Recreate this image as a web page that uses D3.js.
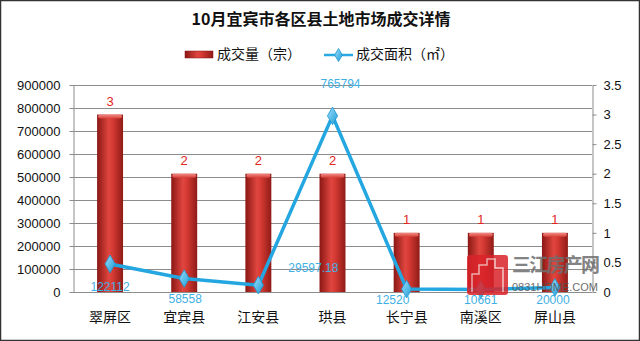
<!DOCTYPE html>
<html><head><meta charset="utf-8">
<script src="https://cdn.jsdelivr.net/npm/d3@7/dist/d3.min.js"></script>
<style>body{margin:0;background:#fff}svg{display:block}</style>
</head><body>
<svg id="c" width="640" height="341"></svg>
<script>
const categories = ["翠屏区","宜宾县","江安县","珙县","长宁县","南溪区","屏山县"];
const dealCount = [3,2,2,2,1,1,1];
const dealArea = [122112,58558,29597.18,765794,12520,10661,20000];
const areaLabels = ["122112","58558","29597.18","765794","12520","10661","20000"];
const leftTicks = [0,100000,200000,300000,400000,500000,600000,700000,800000,900000];
const rightTicks = [0,0.5,1,1.5,2,2.5,3,3.5];
const labelOffsets = [[0,24],[1,21],[55,-16],[8,-31],[-14,12],[0,11],[-2,13.5]];

const svg = d3.select("#c");
const L = 73, R = 592, T = 85, B = 292;
const x = d3.scaleBand().domain(categories).range([L,R]).paddingInner(0.65).paddingOuter(0.325);
const xc = d => x(d) + x.bandwidth()/2;
const yL = d3.scaleLinear().domain([0,900000]).range([B,T]);
const yR = d3.scaleLinear().domain([0,3.5]).range([B,T]);

const defs = svg.append("defs");
const g1 = defs.append("linearGradient").attr("id","barg").attr("x1","0").attr("x2","1").attr("y1","0").attr("y2","0");
g1.append("stop").attr("offset","0").attr("stop-color","#8a1714");
g1.append("stop").attr("offset","0.45").attr("stop-color","#e0463f");
g1.append("stop").attr("offset","0.6").attr("stop-color","#d53a33");
g1.append("stop").attr("offset","1").attr("stop-color","#8f1b17");
const g2 = defs.append("linearGradient").attr("id","capg").attr("x1","0").attr("x2","0").attr("y1","0").attr("y2","1");
g2.append("stop").attr("offset","0").attr("stop-color","#f08a84");
g2.append("stop").attr("offset","1").attr("stop-color","#d8403a");
const g3 = defs.append("linearGradient").attr("id","dg").attr("x1","0").attr("x2","1").attr("y1","0").attr("y2","1");
g3.append("stop").attr("offset","0").attr("stop-color","#9fe0fb");
g3.append("stop").attr("offset","1").attr("stop-color","#1c9ad6");

svg.append("rect").attr("x",0.5).attr("y",0.5).attr("width",639).attr("height",340).attr("fill","#fff").attr("stroke","#333").attr("stroke-width",1.5);

// title
svg.append("text").attr("x",321).attr("y",21).attr("text-anchor","middle").attr("dominant-baseline","middle")
  .attr("font-family","Noto Sans CJK SC").attr("font-weight","bold").attr("font-size",16).attr("fill","#111")
  .text("10月宜宾市各区县土地市场成交详情");

// legend
const lg = svg.append("g");
lg.append("rect").attr("x",185).attr("y",51).attr("width",28).attr("height",7).attr("fill","url(#barg)").attr("stroke","#8a1714").attr("stroke-width",0.5);
lg.append("text").attr("x",217).attr("y",55).attr("dominant-baseline","middle").attr("font-family","Noto Sans CJK SC").attr("font-size",14).attr("fill","#111").text("成交量（宗）");
lg.append("line").attr("x1",324).attr("x2",353).attr("y1",55).attr("y2",55).attr("stroke","#29a9e1").attr("stroke-width",2.5);
lg.append("path").attr("d",d3.symbol(d3.symbolDiamond,50)()).attr("transform","translate(338.5,55)").attr("fill","url(#dg)").attr("stroke","#1d97d2").attr("stroke-width",0.8);
lg.append("text").attr("x",356).attr("y",55).attr("dominant-baseline","middle").attr("font-family","Noto Sans CJK SC").attr("font-size",14).attr("fill","#111").text("成交面积（㎡）");

// grid
svg.append("g").selectAll("line").data(leftTicks).join("line")
  .attr("x1",L).attr("x2",R).attr("y1",d=>Math.round(yL(d))+0.5).attr("y2",d=>Math.round(yL(d))+0.5)
  .attr("stroke","#8c8c8c").attr("stroke-width",1);

// axes
const axL = svg.append("g").attr("transform",`translate(${L+0.5},0)`).call(d3.axisLeft(yL).tickValues(leftTicks).tickFormat(d3.format("d")).tickSize(4).tickSizeOuter(0));
const axR = svg.append("g").attr("transform",`translate(${R+0.5},0)`).call(d3.axisRight(yR).tickValues(rightTicks).tickFormat(d=>String(d)).tickSize(4).tickSizeOuter(0));
[axL,axR].forEach(a=>{
  a.select(".domain").attr("stroke","#8c8c8c");
  a.selectAll(".tick line").attr("stroke","#8c8c8c");
  a.selectAll("text").attr("font-family","Liberation Sans, Arial").attr("font-size",13).attr("fill","#111");
});
axL.selectAll("text").attr("x",-13);
axR.selectAll("text").attr("x",11);

// bars
const bars = svg.append("g");
bars.selectAll("rect.bar").data(categories).join("rect").attr("class","bar")
  .attr("x",d=>x(d)).attr("width",x.bandwidth())
  .attr("y",(d,i)=>yR(dealCount[i])).attr("height",(d,i)=>B-yR(dealCount[i]))
  .attr("fill","url(#barg)");
bars.selectAll("rect.cap").data(categories).join("rect").attr("class","cap")
  .attr("x",d=>x(d)+1).attr("width",x.bandwidth()-2)
  .attr("y",(d,i)=>yR(dealCount[i])).attr("height",4).attr("rx",2)
  .attr("fill","url(#capg)");
bars.selectAll("text").data(categories).join("text")
  .attr("x",d=>xc(d)).attr("y",(d,i)=>yR(dealCount[i])-12)
  .attr("text-anchor","middle").attr("dominant-baseline","middle")
  .attr("font-family","Liberation Sans, Arial").attr("font-size",13).attr("fill","#e0261e")
  .text((d,i)=>dealCount[i]);

// category labels
svg.append("g").selectAll("text").data(categories).join("text")
  .attr("x",d=>xc(d)).attr("y",318).attr("text-anchor","middle").attr("dominant-baseline","middle")
  .attr("font-family","Noto Sans CJK SC").attr("font-size",14).attr("fill","#111").text(d=>d);

// line
const line = d3.line().x((d,i)=>xc(categories[i])).y(d=>yL(d));
svg.append("path").datum(dealArea).attr("d",line).attr("fill","none").attr("stroke","#24a6e0").attr("stroke-width",3.5).attr("stroke-linejoin","round");
svg.append("g").selectAll("path").data(dealArea).join("path")
  .attr("d",d3.symbol(d3.symbolDiamond,90)())
  .attr("transform",(d,i)=>`translate(${xc(categories[i])},${yL(d)})`)
  .attr("fill","url(#dg)").attr("stroke","#1d97d2").attr("stroke-width",0.8);
svg.append("g").selectAll("text").data(dealArea).join("text")
  .attr("x",(d,i)=>xc(categories[i])+labelOffsets[i][0]).attr("y",(d,i)=>yL(d)+labelOffsets[i][1])
  .attr("text-anchor","middle").attr("dominant-baseline","middle")
  .attr("font-family","Liberation Sans, Arial").attr("font-size",12).attr("fill","#3fb0e4")
  .text((d,i)=>areaLabels[i]);

// watermark
const wm = svg.append("g").attr("opacity",0.85);
wm.append("rect").attr("x",467).attr("y",255).attr("width",41).attr("height",40).attr("rx",3).attr("fill","#d9232a");
wm.append("path").attr("d","M472,292 L472,274 L479,274 L479,265 L487,265 L487,259 L495,259 L495,268 L503,268 L503,292").attr("fill","none").attr("stroke","#f4c0c0").attr("stroke-width",1.5);
wm.append("text").attr("x",512).attr("y",267).attr("dominant-baseline","middle").attr("font-family","Noto Sans CJK SC").attr("font-weight","bold").attr("font-size",19).attr("fill","#6e6e6e").attr("textLength",88).text("三江房产网");
wm.append("text").attr("x",512).attr("y",288.5).attr("dominant-baseline","middle").attr("font-family","Liberation Sans, Arial").attr("font-size",11).attr("fill","#555").attr("textLength",86).text("0831HOME.COM");
</script>
</body></html>
